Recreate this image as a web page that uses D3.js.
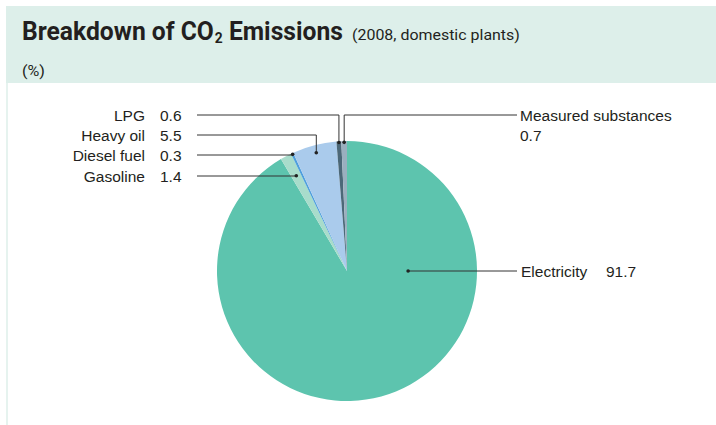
<!DOCTYPE html>
<html>
<head>
<meta charset="utf-8">
<script src="https://cdn.jsdelivr.net/npm/d3@7"></script>
<style>
  body { margin: 0; background: #fff; }
  svg { display: block; font-family: "Liberation Sans", Arial, sans-serif; }
</style>
</head>
<body>
<div id="chart"></div>
<script>
// data, clockwise from 12 o'clock
var categories = ["Electricity", "Gasoline", "Diesel fuel", "Heavy oil", "LPG", "Measured substances"];
var values = [91.7, 1.4, 0.3, 5.5, 0.6, 0.7];
var colors = ["#5dc4ae", "#a8dccb", "#4f9fdd", "#aacbec", "#4c6878", "#9aafbf"];

var width = 716, height = 425;
var cx = 347, cy = 271, radius = 130;

var svg = d3.select("#chart").append("svg")
  .attr("width", width)
  .attr("height", height);

// header panel
svg.append("rect").attr("x", 6).attr("y", 6).attr("width", width - 6).attr("height", 77).attr("fill", "#ddefea");
svg.append("rect").attr("x", 6).attr("y", 83).attr("width", 2).attr("height", height - 83).attr("fill", "#e6f3ef");

// condensed-looking text: squeeze a normal font to a target width
function squeezed(x, y, targetW) {
  var g = svg.append("g");
  var t = g.append("text").attr("fill", "#231f20").style("font-family", "Roboto, sans-serif");
  return {text: t, fit: function() {
    var w = t.node().getBBox().width;
    g.attr("transform", "translate(" + x + "," + y + ") scale(" + (targetW / w) + ",1)");
  }};
}

var title = squeezed(22, 40, 321);
title.text.append("tspan").attr("font-size", 25).attr("font-weight", "bold").text("Breakdown of CO");
title.text.append("tspan").attr("font-size", 14).attr("font-weight", "bold").attr("dy", 3).attr("dx", 1).text("2");
title.text.append("tspan").attr("font-size", 25).attr("font-weight", "bold").attr("dy", -3).text(" Emissions");
title.fit();

var sub = squeezed(352, 40, 168);
sub.text.attr("font-size", 15.5).text("(2008, domestic plants)");
sub.fit();

var unit = squeezed(22, 76, 23);
unit.text.attr("font-size", 15.5).text("(%)");
unit.fit();

// pie
var pie = d3.pie().sort(null).value(function(d) { return d; });
var arcs = pie(values);
var arc = d3.arc().innerRadius(0).outerRadius(radius);

var g = svg.append("g").attr("transform", "translate(" + cx + "," + cy + ")");
g.selectAll("path.slice").data(arcs).enter().append("path")
  .attr("class", "slice")
  .attr("d", arc)
  .attr("fill", function(d, i) { return colors[i]; });

// leader layout: side, label row y, radius fraction for the dot
var leaders = [
  {side: "right", y: 268, r: 0.47, angle: Math.PI / 2},
  {side: "left", y: 176, r: 0.83},
  {side: "left", y: 155, r: 0.99},
  {side: "left", y: 135, r: 0.94},
  {side: "left", y: 115, r: 0.99},
  {side: "rightTop", y: 115, r: 0.99}
];

function dotPos(d, i) {
  var L = leaders[i];
  var a = L.angle != null ? L.angle : (d.startAngle + d.endAngle) / 2;
  return [cx + Math.sin(a) * radius * L.r, cy - Math.cos(a) * radius * L.r];
}

var lineColor = "#333";
arcs.forEach(function(d, i) {
  var L = leaders[i], p = dotPos(d, i), pts;
  if (L.side === "left") {
    pts = Math.abs(p[1] - L.y) < 3 ? [[197, L.y], [p[0], L.y]] : [[197, L.y], [p[0], L.y], p];
  } else if (L.side === "rightTop") {
    pts = [[517, L.y], [p[0], L.y], p];
  } else {
    pts = [p, [517, p[1]]];
  }
  svg.append("path")
    .attr("d", d3.line()(pts))
    .attr("fill", "none").attr("stroke", lineColor).attr("stroke-width", 1);
  svg.append("circle").attr("cx", p[0]).attr("cy", p[1]).attr("r", 1.8).attr("fill", "#222");

  var fs = 15.5, tc = "#231f20";
  if (L.side === "left") {
    svg.append("text").attr("x", 145).attr("y", L.y + 6).attr("text-anchor", "end")
      .attr("font-size", fs).attr("fill", tc).text(categories[i]);
    svg.append("text").attr("x", 160).attr("y", L.y + 6)
      .attr("font-size", fs).attr("fill", tc).text(values[i].toFixed(1));
  } else if (L.side === "rightTop") {
    svg.append("text").attr("x", 520).attr("y", L.y + 6)
      .attr("font-size", fs).attr("fill", tc).text(categories[i]);
    svg.append("text").attr("x", 520).attr("y", L.y + 26)
      .attr("font-size", fs).attr("fill", tc).text(values[i].toFixed(1));
  } else {
    svg.append("text").attr("x", 521).attr("y", p[1] + 6)
      .attr("font-size", fs).attr("fill", tc).text(categories[i]);
    svg.append("text").attr("x", 606).attr("y", p[1] + 6)
      .attr("font-size", fs).attr("fill", tc).text(values[i].toFixed(1));
  }
});
</script>
</body>
</html>
